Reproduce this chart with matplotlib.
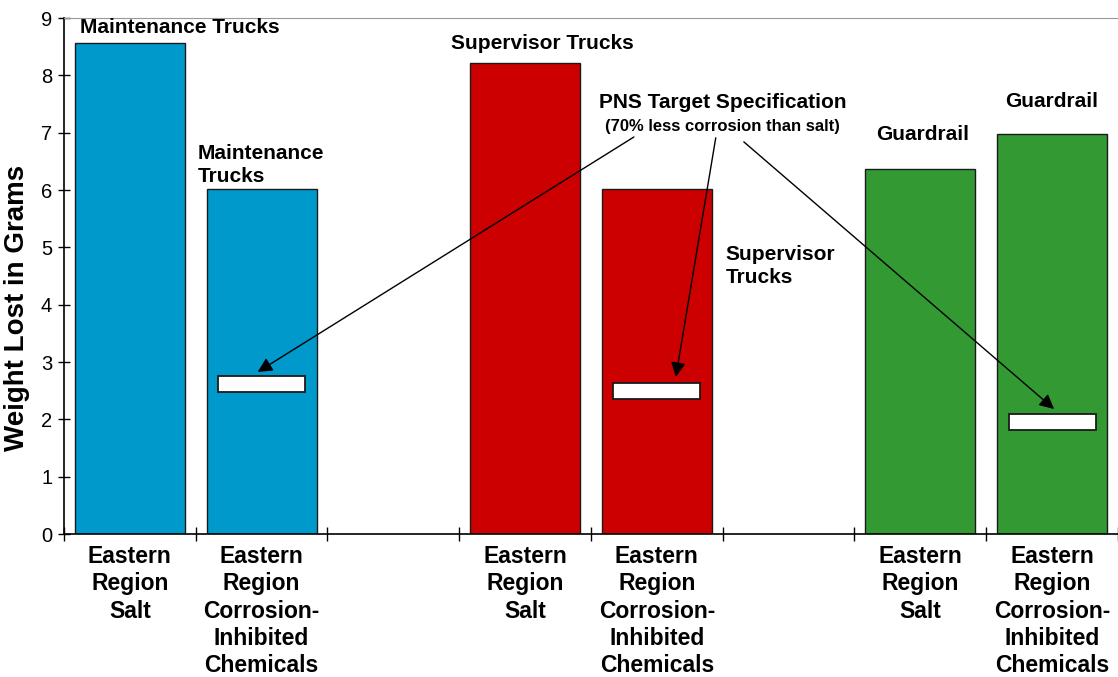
import matplotlib.pyplot as plt
from matplotlib.patches import Rectangle

plt.rcParams["font.family"] = ["Liberation Sans", "DejaVu Sans"]

# eight category slots; the 3rd and 6th are spacers between groups
categories = [
    "Eastern\nRegion\nSalt",
    "Eastern\nRegion\nCorrosion-\nInhibited\nChemicals",
    "",
    "Eastern\nRegion\nSalt",
    "Eastern\nRegion\nCorrosion-\nInhibited\nChemicals",
    "",
    "Eastern\nRegion\nSalt",
    "Eastern\nRegion\nCorrosion-\nInhibited\nChemicals",
]
bar_slots = [0, 1, 3, 4, 6, 7]
weight_lost = [8.56, 6.02, 8.22, 6.02, 6.37, 6.97]
bar_colors = ["#0099CC", "#0099CC", "#CC0000", "#CC0000", "#339933", "#339933"]

# PNS target bands (70% less corrosion than salt) drawn on the CI bars
target_slots = [1, 4, 7]
target_low = [2.48, 2.36, 1.81]
target_high = [2.76, 2.63, 2.09]

fig = plt.figure(figsize=(11.18, 6.77), dpi=100)
ax = fig.add_axes([0.0572, 0.2112, 0.9428, 0.7622])

ax.bar(bar_slots, weight_lost, width=0.835, color=bar_colors,
       edgecolor="#1a1a1a", linewidth=1.0, zorder=2)

box_w = 0.66
for s, lo, hi in zip(target_slots, target_low, target_high):
    ax.add_patch(Rectangle((s - box_w / 2, lo), box_w, hi - lo,
                           facecolor="white", edgecolor="#1a1a1a",
                           linewidth=1.3, zorder=3))

ax.set_xlim(-0.5, 7.5)
ax.set_ylim(0, 9)
ax.set_yticks(range(10))
ax.tick_params(axis="y", direction="inout", length=9, width=1,
               labelsize=14.5, pad=4)

ax.set_xticks([i + 0.5 for i in range(-1, 8)])
ax.set_xticklabels([])
ax.tick_params(axis="x", which="major", direction="inout", length=10, width=1)
ax.set_xticks(range(8), minor=True)
ax.set_xticklabels(categories, minor=True, fontsize=16.5, fontweight="bold",
                   linespacing=1.24, va="top")
ax.tick_params(axis="x", which="minor", length=0, pad=8)

ax.spines["right"].set_visible(False)
ax.spines["top"].set_color("#999999")
ax.spines["left"].set_linewidth(1.2)
ax.spines["bottom"].set_linewidth(1.2)

ax.set_ylabel("Weight Lost in Grams", fontsize=20, fontweight="bold")
ax.yaxis.set_label_coords(-0.032, 0.438)

lab = dict(fontsize=15, fontweight="bold", va="center", zorder=4)
ax.text(0.38, 8.83, "Maintenance Trucks", ha="center", **lab)
ax.text(0.515, 6.44, "Maintenance\nTrucks", ha="left", linespacing=1.25, **lab)
ax.text(3.13, 8.55, "Supervisor Trucks", ha="center", **lab)
ax.text(4.52, 4.67, "Supervisor\nTrucks", ha="left", linespacing=1.25, **lab)
ax.text(6.015, 6.96, "Guardrail", ha="center", **lab)
ax.text(7.0, 7.54, "Guardrail", ha="center", **lab)
ax.text(4.5, 7.52, "PNS Target Specification", ha="center", **lab)
ax.text(4.5, 7.1, "(70% less corrosion than salt)", ha="center",
        fontsize=12, fontweight="bold", va="center", zorder=4)

arrow = dict(arrowstyle="-|>", color="black", lw=1.0, mutation_scale=22,
             shrinkA=0, shrinkB=0)
starts = [(3.826, 6.925), (4.447, 6.91), (4.66, 6.84)]
tips = [(0.97, 2.826), (4.144, 2.74), (7.015, 2.18)]
for (sx, sy), (tx, ty) in zip(starts, tips):
    ax.annotate("", xy=(tx, ty), xytext=(sx, sy), arrowprops=arrow, zorder=5)

fig.savefig("out.png", dpi=100)
